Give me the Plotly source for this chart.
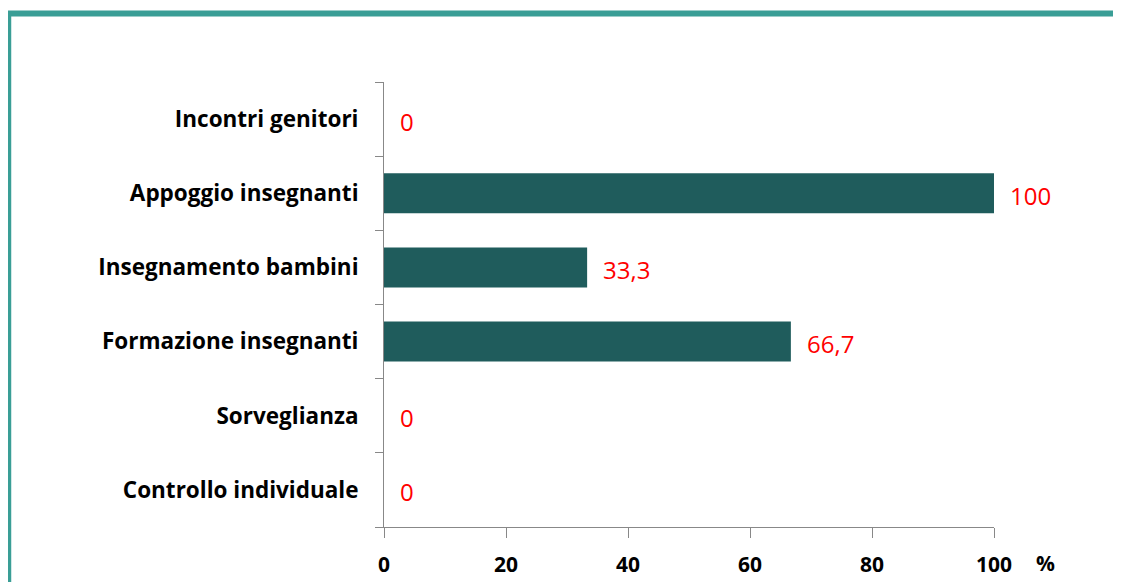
import plotly.graph_objects as go

categorie = ['Controllo individuale', 'Sorveglianza', 'Formazione insegnanti',
             'Insegnamento bambini', 'Appoggio insegnanti', 'Incontri genitori']
valori = [0, 0, 66.7, 33.3, 100, 0]
etichette = ['0', '0', '66,7', '33,3', '100', '0']
tick_x = [0, 20, 40, 60, 80, 100]

fig = go.Figure(go.Bar(x=valori, y=categorie, orientation='h',
                       marker=dict(color='#1F5C5C', line=dict(width=0)),
                       width=0.54, hoverinfo='skip'))

# etichette rosse a destra delle barre
for v, c, t in zip(valori, categorie, etichette):
    fig.add_annotation(x=v, y=c, text=t, showarrow=False, xanchor='left', yanchor='middle',
                       xshift=14, yshift=-2, font=dict(color='#FF0000', size=24, family='Open Sans'))

# "%" accanto all'asse x
fig.add_annotation(x=1.085, y=0, xref='paper', yref='paper', xanchor='center', yanchor='middle',
                   yshift=-36, text='<b>%</b>', showarrow=False,
                   font=dict(color='black', size=21, family='Open Sans'))

# cornice verde acqua
fig.add_shape(type='rect', xref='paper', yref='paper', x0=-0.616, x1=1.5, y0=-0.4, y1=1.154,
              line=dict(color='#3A9E96', width=6), fillcolor='rgba(0,0,0,0)', layer='below')

fig.update_layout(
    width=1113, height=574,
    margin=dict(l=376, r=127, t=74, b=55),
    plot_bgcolor='white', paper_bgcolor='white',
    showlegend=False,
    font=dict(family='Open Sans', color='black'),
    xaxis=dict(range=[0, 100], tickvals=tick_x, showgrid=False, zeroline=False,
               showline=True, linecolor='#888888', linewidth=1, automargin=False,
               ticks='outside', ticklen=10, tickcolor='#888888',
               tickfont=dict(size=21, family='Open Sans', color='black', weight='bold'),
               ticklabelstandoff=9),
    yaxis=dict(categoryorder='array', categoryarray=categorie, showgrid=False,
               showline=True, linecolor='#888888', linewidth=1, automargin=False,
               ticks='outside', ticklen=8, tickcolor='#888888', tickson='boundaries',
               tickfont=dict(size=22.5, family='Open Sans', color='black', weight='bold'),
               ticklabelstandoff=20),
)

fig.write_html('out.html')
